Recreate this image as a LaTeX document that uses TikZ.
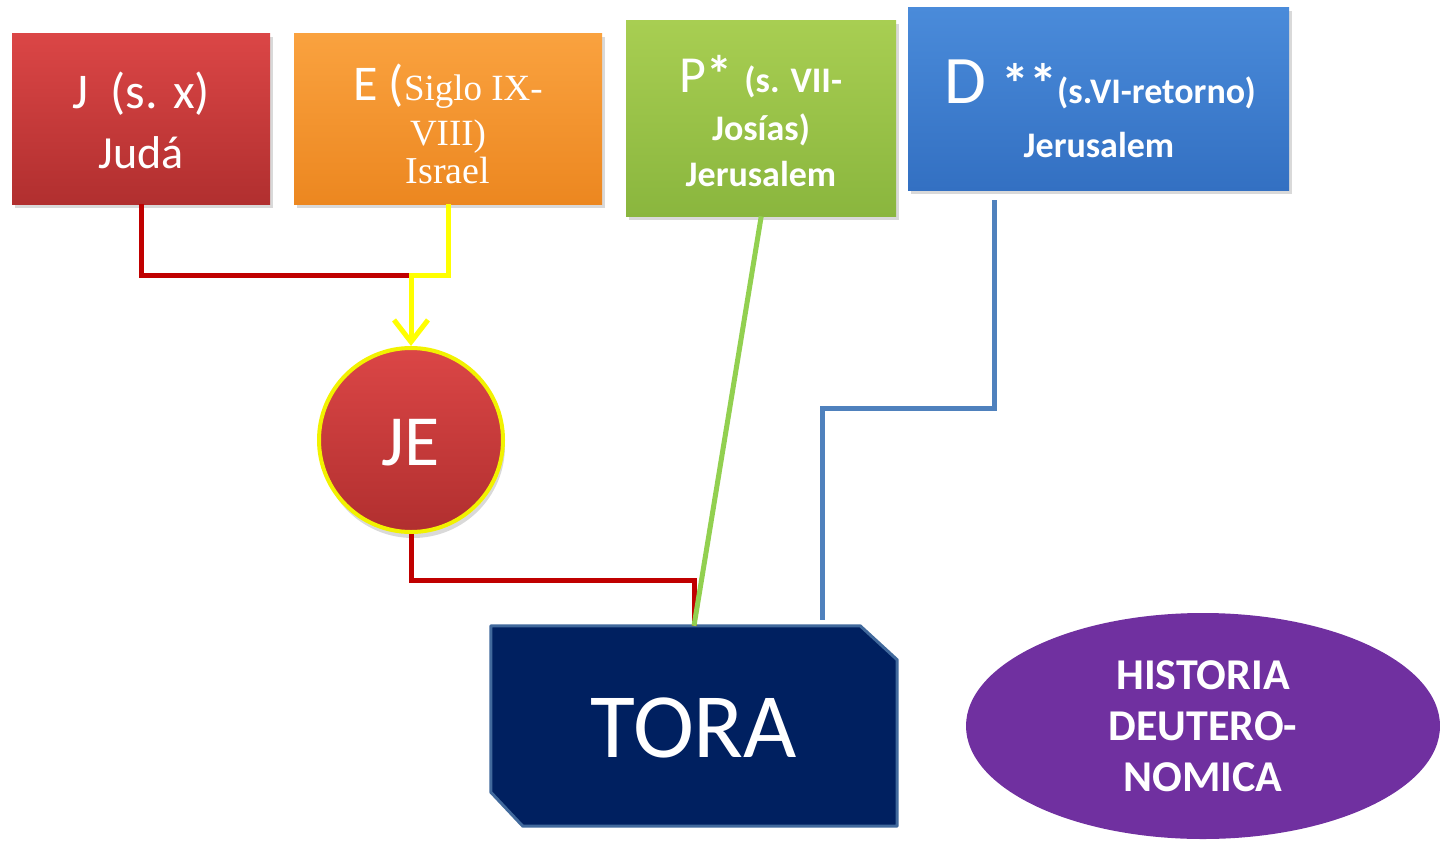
\documentclass[tikz,border=0pt]{standalone}
\usepackage{fontspec}
\setmainfont{Carlito}
\newfontfamily\serifc{Liberation Serif}
\usetikzlibrary{shapes.geometric,shadows,arrows.meta,calc}
\definecolor{jredT}{HTML}{DB4646}
\definecolor{jredB}{HTML}{B12F2F}
\definecolor{eorT}{HTML}{FAA23F}
\definecolor{eorB}{HTML}{EC8720}
\definecolor{pgrT}{HTML}{A8CE52}
\definecolor{pgrB}{HTML}{8AB63E}
\definecolor{dblT}{HTML}{4A8BDA}
\definecolor{dblB}{HTML}{3370C2}
\definecolor{toraF}{HTML}{002060}
\definecolor{toraD}{HTML}{41699C}
\definecolor{histF}{HTML}{7030A0}
\definecolor{lred}{HTML}{C00000}
\definecolor{lyel}{HTML}{FFFF00}
\definecolor{lgrn}{HTML}{92D050}
\definecolor{lblu}{HTML}{4F81BD}
\definecolor{jeY}{HTML}{F2F200}
\tikzset{
  box/.style={draw=none, inner sep=0, anchor=north west,
    drop shadow={opacity=0.3, shadow xshift=3pt, shadow yshift=-4pt}},
  txt/.style={text=white, inner sep=0, anchor=base},
  conn/.style={line width=5pt},
}
\newcommand{\fsz}[1]{\fontsize{#1}{#1}\selectfont}
\begin{document}
\begin{tikzpicture}[x=1pt,y=-1pt]
\useasboundingbox (0,0) rectangle (1440,841);
% boxes
\node[box, minimum width=258, minimum height=171, top color=jredT, bottom color=jredB] (J) at (12,33) {};
\node[box, minimum width=308, minimum height=171, top color=eorT, bottom color=eorB] (E) at (294,33) {};
\node[box, minimum width=270, minimum height=196, top color=pgrT, bottom color=pgrB] (P) at (626,20) {};
\node[box, minimum width=381, minimum height=183, top color=dblT, bottom color=dblB] (D) at (908,7) {};
% texts in boxes
\node[txt] (J1) at (141,108) {\fsz{50}J\ \ (s. x)};
\node[txt] (J2) at (141,168) {\fsz{46}Judá};
\node[txt] (E1) at (448,100) {\fsz{50}E (\serifc\fsz{37}Siglo IX-};
\node[txt] (E2) at (448,145) {\serifc\fsz{37}VIII)};
\node[txt] (E3) at (448,183) {\serifc\fsz{38}Israel};
\node[txt] (P1) at (761,92) {\fsz{52}P\textbf{*}\ \bfseries\fsz{36}(s. VII-};
\node[txt] (P2) at (761,140) {\bfseries\fsz{36}Josías)};
\node[txt] (P3) at (761,186) {\bfseries\fsz{36}Jerusalem};
\node[txt] (D1) at (1100,103) {\fsz{68}D \bfseries\fsz{56}**\fsz{36}(s.VI-retorno)};
\node[txt] (D2) at (1099,157) {\bfseries\fsz{36}Jerusalem};
% JE circle
\node[circle, minimum size=184, inner sep=0, top color=jredT, bottom color=jredB,
  draw=jeY, line width=4pt, drop shadow={opacity=0.3, shadow xshift=2pt, shadow yshift=-6pt}] (JE) at (411,440) {};
\node[txt] (JEt) at (411,465) {\fsz{72}JE};
% TORA
\node[rectangle, minimum width=406, minimum height=200, inner sep=0] (TORA) at (694,726) {};
\filldraw[fill=toraF, draw=toraD, line width=3pt, line join=round]
  (TORA.north west) -- ($(TORA.north east)+(-37,0)$) -- ($(TORA.north east)+(0,34)$)
  -- (TORA.south east) -- ($(TORA.south west)+(32,0)$) -- ($(TORA.south west)+(0,-34)$) -- cycle;
\node[txt] (TORAt) at (694,757) {\fsz{92}TORA};
% Historia
\node[ellipse, minimum width=474, minimum height=226, inner sep=0, fill=histF,
  text=white, align=center, font=\bfseries\fontsize{44}{51}\selectfont] (H) at (1203,726)
  {HISTORIA\\DEUTERO-\\NOMICA};
% connectors
\coordinate (jy) at (0,275);
\coordinate (jx) at (411,0);
\draw[conn, lred] (J.south) -- (J.south |- jy) -- (jx |- jy);
\draw[conn, lyel, -{Straight Barb[length=22pt,width=34pt,line width=5pt]}]
  (E.south) -- (E.south |- jy) -- (jx |- jy) -- (JE.north);
\coordinate (ry) at (0,580);
\draw[conn, lred] (JE.south) -- (JE.south |- ry) -- (TORA.north |- ry) -- (TORA.north);
\draw[conn, lgrn] (P.south) -- (TORA.north);
\coordinate (b1) at (994,408);
\coordinate (b2) at (822,408);
\draw[conn, lblu, shorten <=10pt, shorten >=6pt] (D.south -| b1) -- (b1) -- (b2) -- (b2 |- TORA.north);
\end{tikzpicture}
\end{document}
